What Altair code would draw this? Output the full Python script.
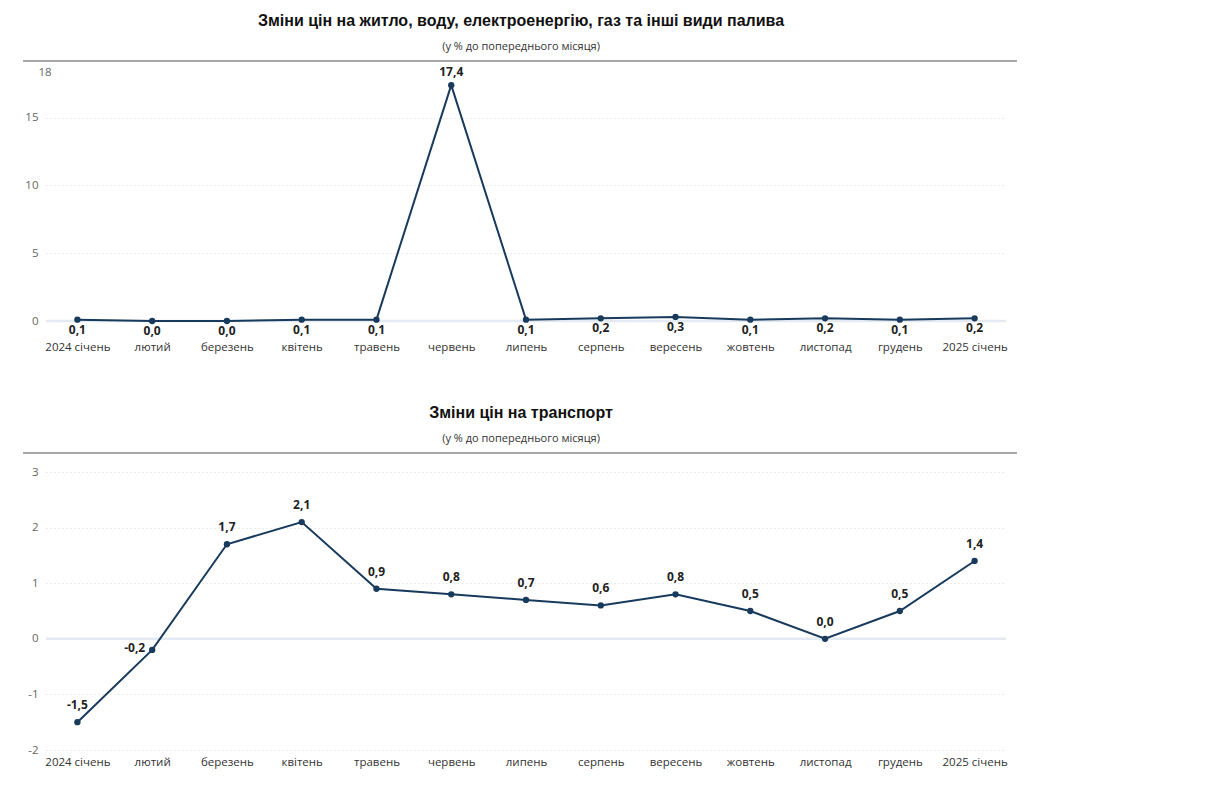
import altair as alt
import pandas as pd

months = ["2024 січень", "лютий", "березень", "квітень", "травень", "червень", "липень",
          "серпень", "вересень", "жовтень", "листопад", "грудень", "2025 січень"]
housing = [0.1, 0.0, 0.0, 0.1, 0.1, 17.4, 0.1, 0.2, 0.3, 0.1, 0.2, 0.1, 0.2]
transport = [-1.5, -0.2, 1.7, 2.1, 0.9, 0.8, 0.7, 0.6, 0.8, 0.5, 0.0, 0.5, 1.4]
title_top = "Зміни цін на житло, воду, електроенергію, газ та інші види палива"
title_bottom = "Зміни цін на транспорт"
subtitle = "(у % до попереднього місяця)"
ticks_top = [0, 5, 10, 15, 18]
ticks_bottom = [-2, -1, 0, 1, 2, 3]

LINE = "#183a5c"
W = 960
FONT = "Open Sans"

df_top = pd.DataFrame({"m": months, "v": housing})
df_bot = pd.DataFrame({"m": months, "v": transport})


def panel(df, title, domain, ticks, height, label_pad, hide_grid_expr, top_line_y,
          title_offset, label_layers):
    base = alt.Chart(df).transform_calculate(
        lab="replace(replace(format(datum.v, '.1f'), '.', ','), '\u2212', '-')"
    )
    x = alt.X("m:N", sort=months, title=None,
              scale=alt.Scale(type="point", padding=0.42),
              axis=alt.Axis(labelAngle=0, domain=False, ticks=False, labelFont=FONT,
                            labelFontSize=11.5, labelColor="#333", labelPadding=label_pad,
                            grid=False))
    y = alt.Y("v:Q", title=None, scale=alt.Scale(domain=domain, nice=False, zero=False),
              axis=alt.Axis(values=ticks, domain=False, ticks=False, labelFont=FONT,
                            labelFontSize=11.5, labelColor="#666", labelPadding=8,
                            labelExpr="replace(datum.label, '\u2212', '-')",
                            grid=True, gridColor="#d9d9d9", gridDash=[1, 3],
                            gridOpacity={"condition": {"test": hide_grid_expr, "value": 0},
                                         "value": 1},
                            labelAlign={"condition": {"test": "datum.value == 18", "value": "left"},
                                        "value": "right"},
                            labelBaseline={"condition": {"test": "datum.value == 18", "value": "bottom"},
                                           "value": "middle"}))
    zero = alt.Chart(pd.DataFrame({"z": [0]})).mark_rule(color="#e4eaf1", strokeWidth=2.5).encode(
        y=alt.Y("z:Q", scale=alt.Scale(domain=domain, nice=False, zero=False)))
    header = alt.Chart(pd.DataFrame({"z": [0]})).mark_rule(color="#888", strokeWidth=1.5).encode(
        x=alt.value(-23), x2=alt.value(W + 11), y=alt.value(top_line_y))
    line = base.mark_line(color=LINE, strokeWidth=2).encode(x=x, y=y)
    pts = base.mark_point(filled=True, color=LINE, size=40, opacity=1).encode(x=x, y=y)
    texts = []
    for flt, kw in label_layers:
        texts.append(base.transform_filter(flt).mark_text(
            font=FONT, fontSize=12, fontWeight="bold", color="#222", **kw
        ).encode(x=x, y=y, text="lab:N"))
    return alt.layer(zero, header, line, pts, *texts).properties(
        width=W, height=height,
        title=alt.TitleParams(title, subtitle=subtitle, font="Liberation Sans", fontSize=16,
                              fontWeight="bold", color="#111", subtitleFont=FONT,
                              subtitleFontSize=11, subtitleColor="#333", subtitlePadding=12,
                              anchor="middle", offset=title_offset, dx=-5)
    )


top = panel(df_top, title_top, [0, 18], ticks_top, 244, 20,
            "datum.value == 18 || datum.value == 0", -16, 8,
            [("datum.v > 10", dict(dy=-13, baseline="middle")),
             ("datum.v <= 10", dict(dy=10, baseline="middle"))])
bottom = panel(df_bot, title_bottom, [-2, 3], ticks_bottom, 278, 6,
               "datum.value == 0", -19, 8,
               [("datum.m != 'лютий'", dict(dy=-17, baseline="middle")),
                ("datum.m == 'лютий'", dict(dx=-7, dy=-2, align="right", baseline="middle"))])

chart = alt.vconcat(top, bottom, spacing=52).properties(
    padding={"left": 14, "top": 5, "right": 5, "bottom": 5},
    background="white"
).configure_view(strokeWidth=0, stroke="transparent")

chart.save("out.html", embed_options={"renderer": "svg", "actions": False})
